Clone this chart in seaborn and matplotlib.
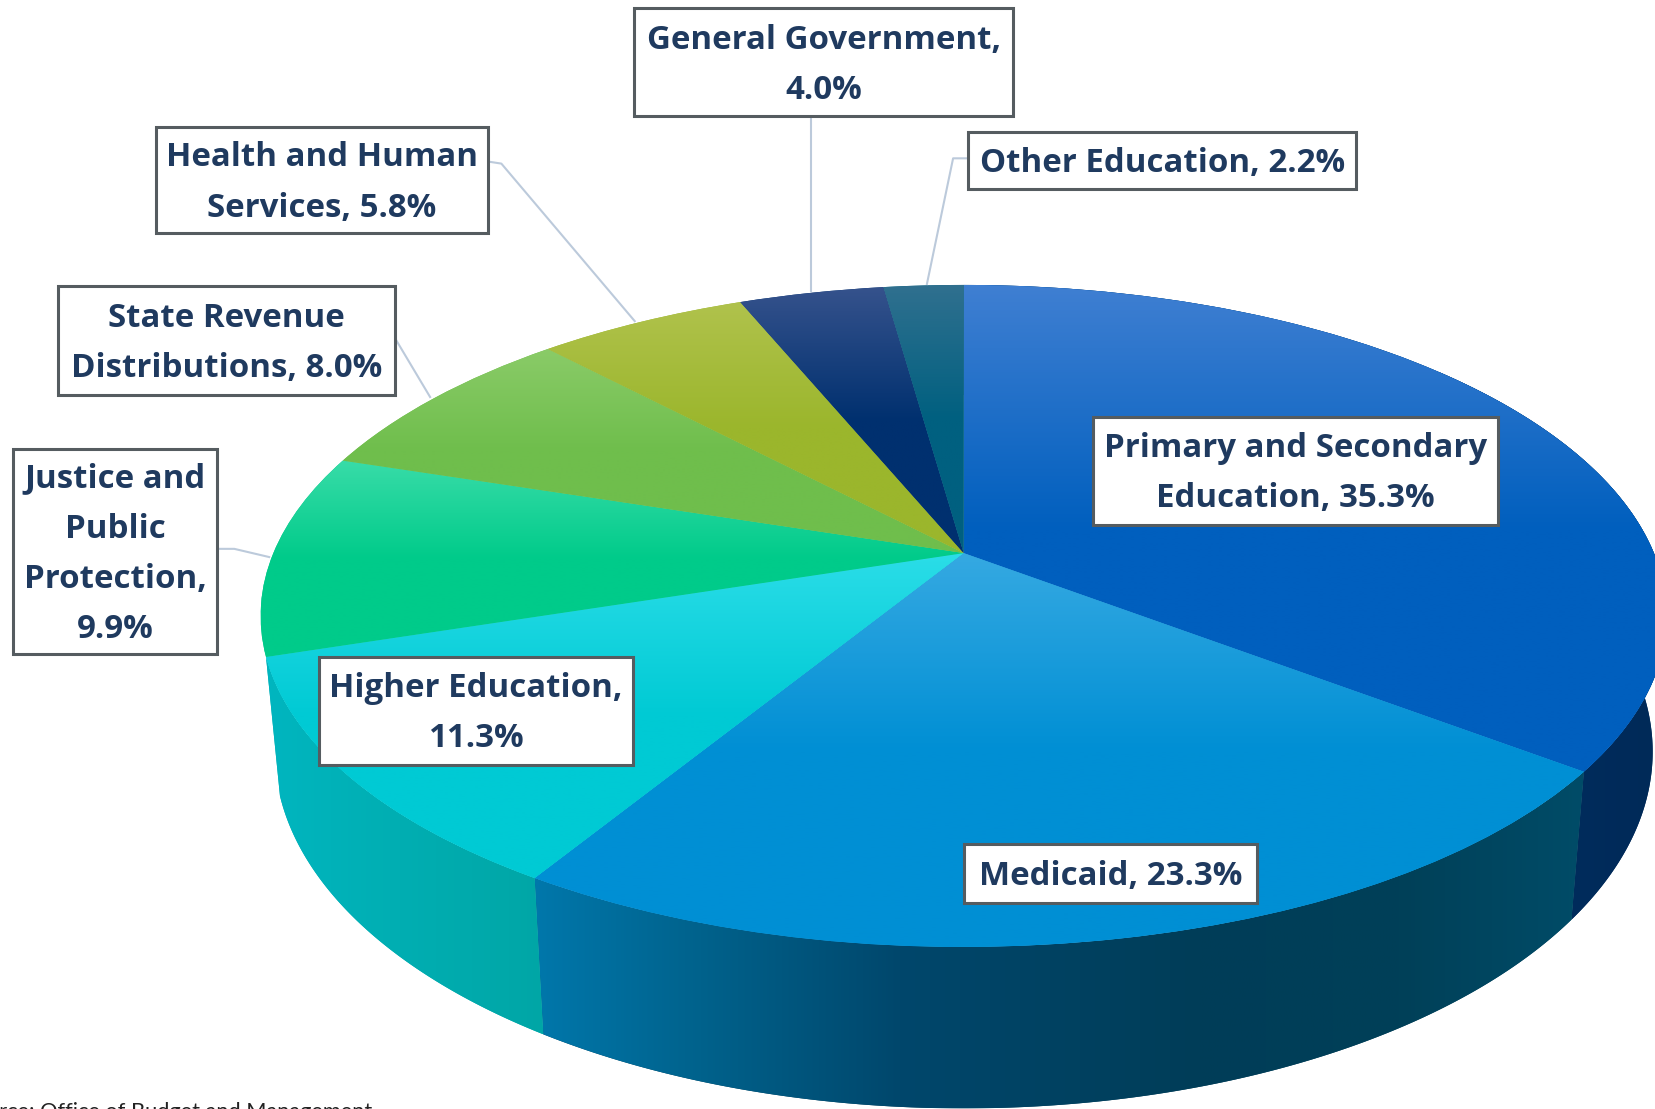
import numpy as np
import matplotlib
matplotlib.use("Agg")
import matplotlib.pyplot as plt
import seaborn as sns
from matplotlib.colors import to_rgb
from matplotlib.patches import Polygon, Rectangle
from matplotlib.transforms import Transform

# ---- data ----
categories = ["Primary and Secondary Education", "Medicaid", "Higher Education",
              "Justice and Public Protection", "State Revenue Distributions",
              "Health and Human Services", "General Government", "Other Education"]
shares = [35.3, 23.3, 11.3, 9.9, 8.0, 5.8, 4.0, 2.2]
label_texts = ["Primary and Secondary\nEducation, 35.3%", "Medicaid, 23.3%",
               "Higher Education,\n11.3%", "Justice and\nPublic\nProtection,\n9.9%",
               "State Revenue\nDistributions, 8.0%", "Health and Human\nServices, 5.8%",
               "General Government,\n4.0%", "Other Education, 2.2%"]
top_light = ["#3F7FD2", "#35A9E2", "#2BDDE8", "#38DCA8", "#8ACB68", "#B0C24C", "#35528C", "#30708F"]
top_dark = ["#005FBE", "#008FD4", "#00CAD4", "#00CB8A", "#6FBE4C", "#9BB62C", "#00306F", "#006080"]
source_text = "Source: Office of Budget and Management"

# ---- styling / layout ----
S = 1655 / 1568
WALL_STOPS = {
    0: ([1440, 1660], ["#002E62", "#002A58"]),
    1: ([530, 700, 900, 1200, 1400, 1585], ["#0078AC", "#00628C", "#00476C", "#003D58", "#004058", "#004C68"]),
    2: ([262, 400, 545], ["#00B6C0", "#00AEB2", "#00A6A6"]),
}
BOXES = [(1036, 395, 1419, 497), (913, 800, 1191, 856), (302, 622, 600, 725), (12, 425, 206, 620),
         (55, 271, 374, 374), (148, 120, 462, 221), (601, 8, 960, 110), (917, 125, 1285, 179)]
LEADERS = [[(768, 110), (768, 277)], [(917, 150), (903, 150), (878, 270)],
           [(462, 153), (475, 155), (602, 305)], [(374, 320), (408, 377)],
           [(206, 520), (222, 520), (256, 528)]]
CX, APEX_Y, D, A, C = 913 * S, 524 * S, 654 * S, -202.8 * S, 0.1898
WALL_K, WALL_X = 124 * S, 0.98
TEXT = "#1F3A5F"
FONT = ["Open Sans", "DejaVu Sans"]


class TopFace(Transform):
    input_dims = output_dims = 2
    is_separable = False
    has_inverse = False

    def transform_non_affine(self, xy):
        xy = np.asarray(xy, float)
        w = 1 + C * xy[:, 1]
        return np.column_stack([CX + D * xy[:, 0] / w, (A * xy[:, 1] + APEX_Y) / w])


top = TopFace()


def lower_rim(xy):
    p = top.transform_non_affine(xy)
    w = 1 + C * xy[:, 1]
    return np.column_stack([CX + (p[:, 0] - CX) * WALL_X, p[:, 1] + WALL_K / w])


sns.set_theme(style="white")
plt.rcParams["font.family"] = FONT
fig = plt.figure(figsize=(16.55, 11.09), dpi=100, facecolor="white")
ax = fig.add_axes([0, 0, 1, 1])

wedges, _ = ax.pie(shares, startangle=90, counterclock=False, radius=1, center=(0, 0))
ax.set_aspect("auto")

for i, w in enumerate(wedges):
    t = np.radians(np.linspace(w.theta1, w.theta2, 240))
    rim = np.column_stack([np.cos(t), np.sin(t)])
    p_top = top.transform_non_affine(rim)
    if i in WALL_STOPS:
        p_low = lower_rim(rim)
        wall = Polygon(np.vstack([p_top, p_low[::-1]]), closed=True,
                       fc=WALL_STOPS[i][1][len(WALL_STOPS[i][1]) // 2], ec="none", zorder=0.5)
        ax.add_patch(wall)
        xs, cols = WALL_STOPS[i]
        grid = np.linspace(xs[0], xs[-1], 500)
        rgb = np.array([to_rgb(c) for c in cols])
        img = np.stack([np.interp(grid, xs, rgb[:, k]) for k in range(3)], axis=-1)[None, :, :]
        y0, y1 = np.vstack([p_top, p_low])[:, 1].min(), np.vstack([p_top, p_low])[:, 1].max()
        im = ax.imshow(img, extent=(xs[0], xs[-1], y1, y0), aspect="auto", zorder=0.6, interpolation="bilinear")
        im.set_clip_path(wall)

    # top face: real pie wedge seen through the perspective, shaded top to bottom
    ramp = sns.blend_palette([top_light[i], top_dark[i], top_dark[i]], n_colors=128)
    w.set_transform(top + ax.transData)
    w.set_facecolor(ramp[64])
    w.set_edgecolor("none")
    w.set_zorder(1)
    pts = np.vstack([p_top, [[CX, APEX_Y]]])
    y0, y1 = pts[:, 1].min(), pts[:, 1].max()
    x0, x1 = pts[:, 0].min(), pts[:, 0].max()
    im = ax.imshow(np.array(ramp)[:, None, :], extent=(x0, x1, y1, y0), aspect="auto",
                   zorder=1.1, interpolation="bilinear")
    im.set_clip_path(w)

for seg in LEADERS:
    pts = np.array(seg) * S
    ax.plot(pts[:, 0], pts[:, 1], color="#BCCADB", lw=1.5, zorder=2, solid_capstyle="butt")

for (x0, y0, x1, y1), txt in zip(BOXES, label_texts):
    ax.add_patch(Rectangle((x0 * S, y0 * S), (x1 - x0) * S, (y1 - y0) * S, fc="white",
                           ec="#555C60", lw=2.2, zorder=3))
    ax.text((x0 + x1) / 2 * S, (y0 + y1) / 2 * S + 3, txt, ha="center", va="center", color=TEXT,
            fontsize=23.8, fontweight="bold", linespacing=1.69, zorder=4, family=FONT)

ax.text(372, 1102, source_text, ha="right", va="top", fontsize=15.7, color="#222222", family=["Lato", "DejaVu Sans"],
        clip_on=False, zorder=4)

ax.set_xlim(0, 1655)
ax.set_ylim(1109, 0)
ax.axis("off")
fig.savefig("out.png", dpi=100, facecolor="white")
